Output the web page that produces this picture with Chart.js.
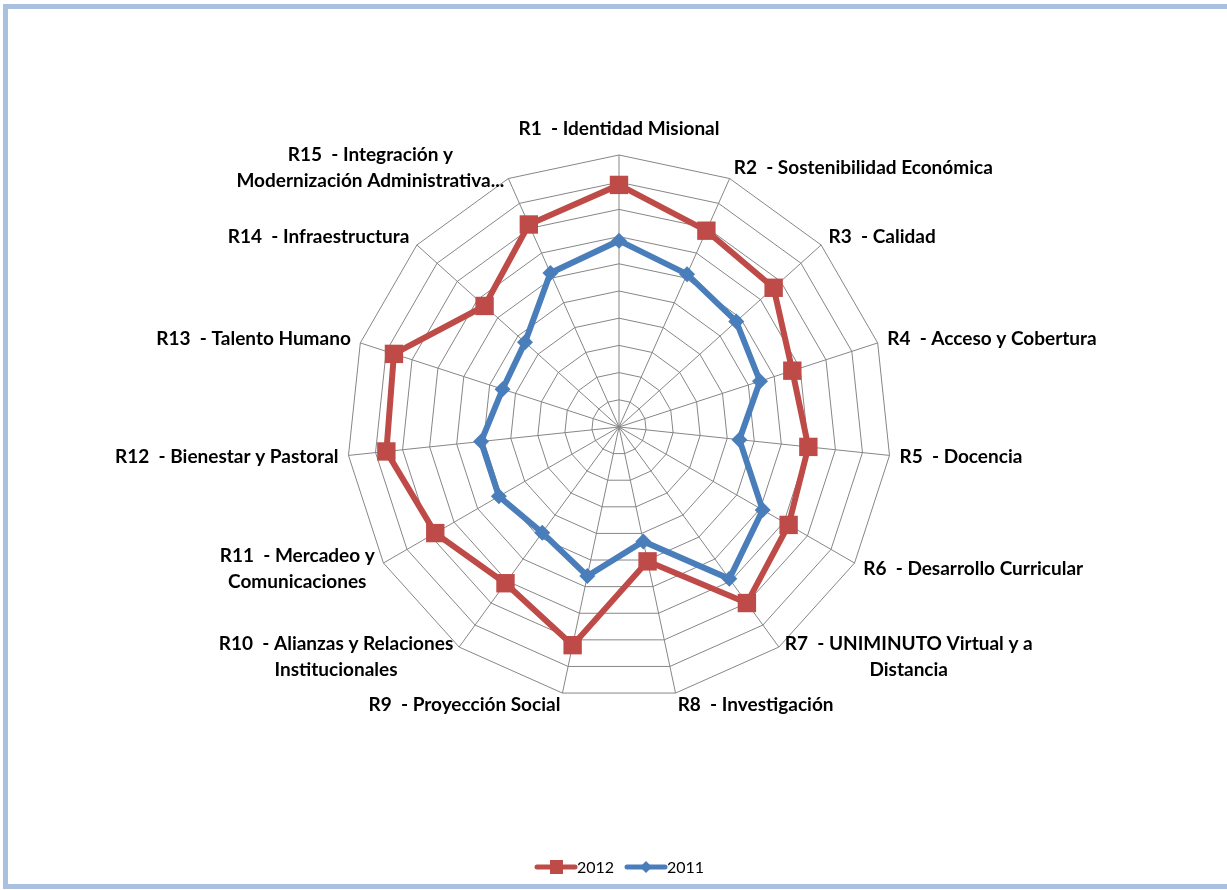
<!DOCTYPE html>
<html>
<head>
<meta charset="utf-8">
<script src="https://cdn.jsdelivr.net/npm/chart.js@4"></script>
<style>
    body { margin: 0; background: #fff; overflow: hidden; }
    #marco { position: absolute; left: 3px; top: 4px; width: 1260px; height: 875px; border: 5px solid #a9c1de; }
    #contenedor { position: absolute; left: 0; top: 0; width: 1227px; height: 890px; }
</style>
</head>
<body>
<div id="marco"></div>
<div id="contenedor"><canvas id="canvasGrafica" width="1227" height="890"></canvas></div>
<script>
const categorias = [
    ["R1  - Identidad Misional"],
    ["R2  - Sostenibilidad Económica"],
    ["R3  - Calidad"],
    ["R4  - Acceso y Cobertura"],
    ["R5  - Docencia"],
    ["R6  - Desarrollo Curricular"],
    ["R7  - UNIMINUTO Virtual y a", "Distancia"],
    ["R8  - Investigación"],
    ["R9  - Proyección Social"],
    ["R10  - Alianzas y Relaciones", "Institucionales"],
    ["R11  - Mercadeo y", "Comunicaciones"],
    ["R12  - Bienestar y Pastoral"],
    ["R13  - Talento Humano"],
    ["R14  - Infraestructura"],
    ["R15  - Integración y", "Modernización Administrativa..."]
];

const valores2012 = [0.89, 0.79, 0.765, 0.67, 0.70, 0.72, 0.80, 0.505, 0.82, 0.71, 0.78, 0.86, 0.87, 0.665, 0.815];
const valores2011 = [0.685, 0.615, 0.58, 0.545, 0.445, 0.61, 0.69, 0.43, 0.56, 0.48, 0.51, 0.51, 0.45, 0.465, 0.62];

const rojo = "#be4b48";
const azul = "#4a7ebb";
const fuenteEtiquetas = "bold 19px Lato";

// Etiquetas de cada eje y leyenda dibujadas a mano, al estilo Excel
const etiquetasPlugin = {
    id: "etiquetasRadar",
    afterDraw(chart) {
        const ctx = chart.ctx;
        const escala = chart.scales.r;
        const radio = escala.drawingArea;
        ctx.save();
        ctx.font = fuenteEtiquetas;
        ctx.fillStyle = "#000";
        ctx.textBaseline = "middle";
        const altoLinea = 26;
        categorias.forEach((lineas, i) => {
            const ang = i * 2 * Math.PI / categorias.length;
            const p = escala.getPointPosition(i, radio);
            const s = Math.sin(ang), c = Math.cos(ang);
            const ancho = Math.max(...lineas.map(l => ctx.measureText(l).width));
            const altoBloque = lineas.length * altoLinea;
            let centroX, centroY;
            if (Math.abs(s) < 0.05) {
                centroX = p.x;
                centroY = c > 0 ? p.y - 26 : p.y + 26;
            } else {
                const x = p.x + 10 * s;
                centroX = s > 0 ? x + ancho / 2 : x - ancho / 2;
                centroY = p.y - 12 * c;
            }
            ctx.textAlign = "center";
            lineas.forEach((l, k) => {
                ctx.fillText(l, centroX, centroY - altoBloque / 2 + altoLinea / 2 + k * altoLinea);
            });
        });

        // Leyenda
        ctx.font = "16px Lato";
        ctx.textAlign = "left";
        let x = 537;
        const y = 867;
        chart.data.datasets.forEach(ds => {
            ctx.strokeStyle = ds.borderColor;
            ctx.fillStyle = ds.borderColor;
            ctx.lineWidth = 5;
            ctx.lineCap = "round";
            ctx.beginPath();
            ctx.moveTo(x, y);
            ctx.lineTo(x + 38, y);
            ctx.stroke();
            ctx.beginPath();
            if (ds.pointStyle === "rect") {
                ctx.rect(x + 13, y - 7, 13, 14);
            } else {
                ctx.moveTo(x + 19, y - 6);
                ctx.lineTo(x + 25, y);
                ctx.lineTo(x + 19, y + 6);
                ctx.lineTo(x + 13, y);
                ctx.closePath();
            }
            ctx.fill();
            ctx.fillStyle = "#000";
            ctx.fillText(ds.label, x + 40, y + 1);
            x += 90;
        });
        ctx.restore();
    }
};

function createChart() {
    const ctx = document.getElementById("canvasGrafica").getContext("2d");
    new Chart(ctx, {
        type: "radar",
        data: {
            labels: categorias.map(l => l.join(" ")),
            datasets: [
                {
                    label: "2012",
                    data: valores2012,
                    borderColor: rojo,
                    backgroundColor: rojo,
                    borderWidth: 6,
                    fill: false,
                    pointStyle: "rect",
                    pointRadius: 13,
                    pointBackgroundColor: rojo,
                    pointBorderWidth: 0
                },
                {
                    label: "2011",
                    data: valores2011,
                    borderColor: azul,
                    backgroundColor: azul,
                    borderWidth: 6,
                    fill: false,
                    pointStyle: "rectRot",
                    pointRadius: 8,
                    pointBackgroundColor: azul,
                    pointBorderWidth: 0
                }
            ]
        },
        options: {
            responsive: false,
            animation: false,
            layout: { padding: { top: 155, bottom: 191, left: 347, right: 336 } },
            plugins: { legend: { display: false }, tooltip: { enabled: false } },
            scales: {
                r: {
                    min: 0,
                    max: 1,
                    ticks: { display: false, stepSize: 0.1 },
                    grid: { color: "#868686", lineWidth: 1 },
                    angleLines: { color: "#868686", lineWidth: 1 },
                    pointLabels: { display: false }
                }
            }
        },
        plugins: [etiquetasPlugin]
    });
}

createChart();
</script>
</body>
</html>
